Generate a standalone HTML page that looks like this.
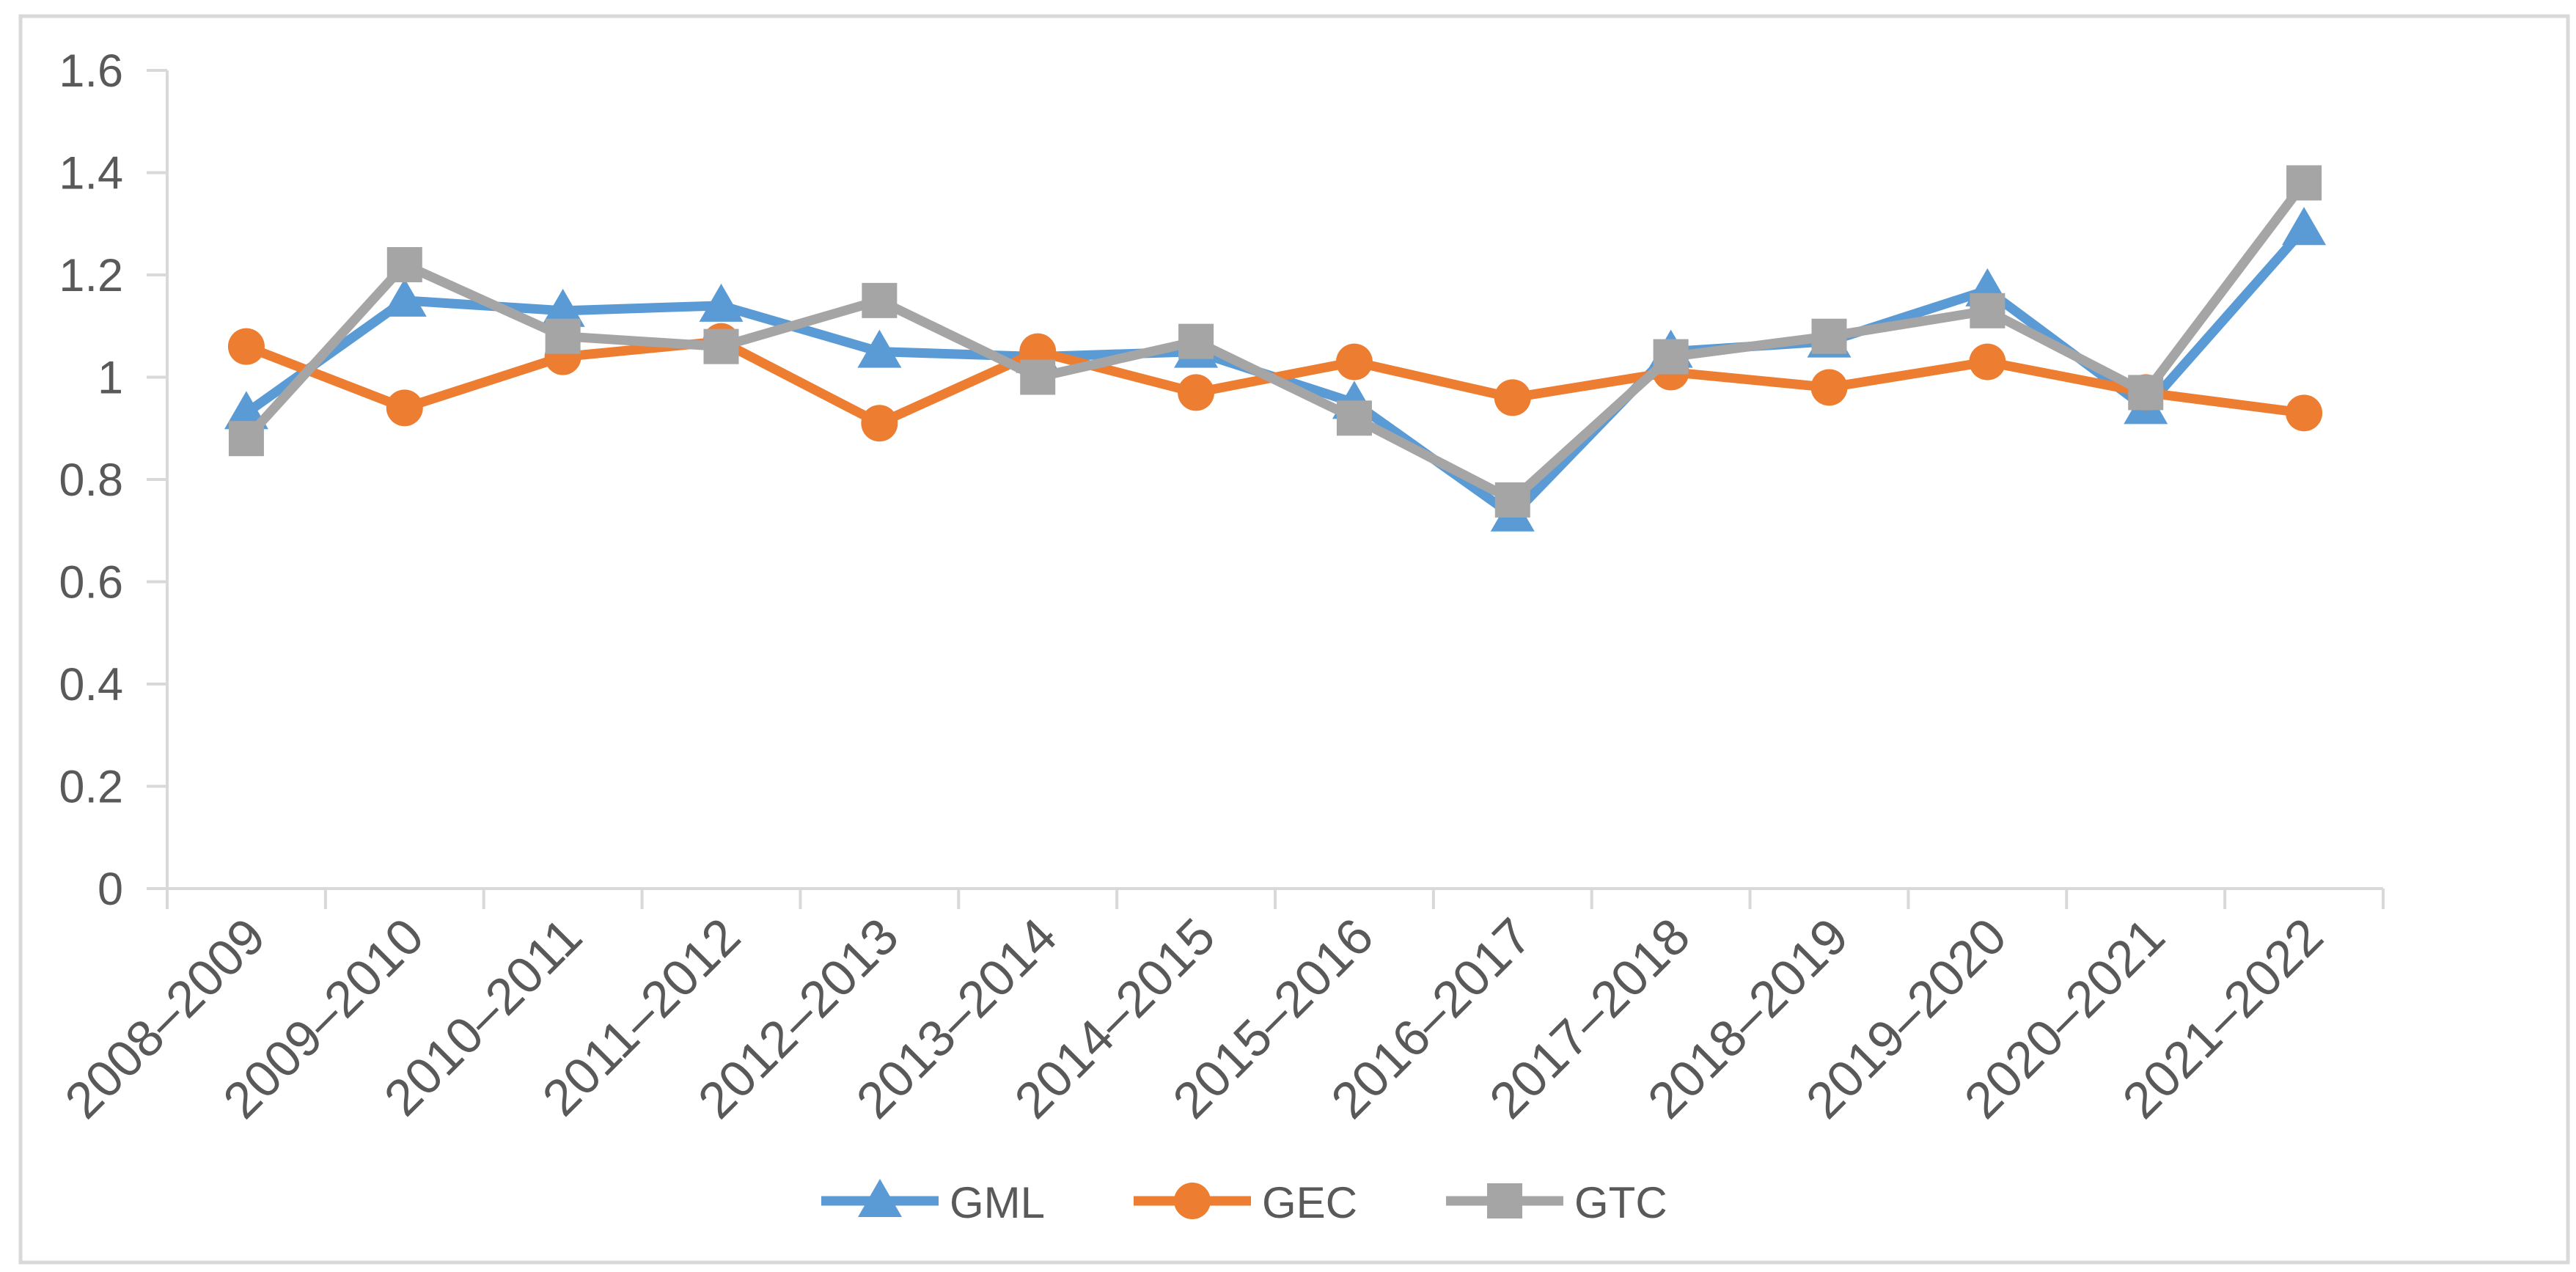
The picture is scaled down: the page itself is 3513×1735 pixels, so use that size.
<!DOCTYPE html>
<html><head><meta charset="utf-8"><style>
html,body{margin:0;padding:0;background:#fff;}
svg{display:block;font-family:"Liberation Sans","Noto Sans CJK SC",sans-serif;}
</style></head><body>
<svg id="chart" width="3513" height="1735" viewBox="0 0 3513 1735" xmlns="http://www.w3.org/2000/svg">
<rect x="28" y="22" width="3474" height="1700" fill="#fff" stroke="#d9d9d9" stroke-width="5"/>
<g id="axes"></g><g id="series"></g><g id="legend"></g>
</svg>
<script>
const categories=["2008-2009","2009-2010","2010-2011","2011-2012","2012-2013","2013-2014","2014-2015","2015-2016","2016-2017","2017-2018","2018-2019","2019-2020","2020-2021","2021-2022"];
const gmlValues=[0.93,1.15,1.13,1.14,1.05,1.04,1.05,0.95,0.73,1.05,1.07,1.17,0.94,1.29];
const gecValues=[1.06,0.94,1.04,1.07,0.91,1.05,0.97,1.03,0.96,1.01,0.98,1.03,0.97,0.93];
const gtcValues=[0.88,1.22,1.08,1.06,1.15,1.00,1.07,0.92,0.76,1.04,1.08,1.13,0.97,1.38];
const yTicks=[0,0.2,0.4,0.6,0.8,1,1.2,1.4,1.6];
const yTickLabels=["0","0.2","0.4","0.6","0.8","1","1.2","1.4","1.6"];

const NS="http://www.w3.org/2000/svg";
const X0=228,X1=3250,Y0=1212,Y1=96,YMAX=1.6;
const cw=(X1-X0)/categories.length;
function xs(i){return X0+cw*(i+0.5);}
function ys(v){return Y0-(v/YMAX)*(Y0-Y1);}
function mk(tag,attrs,parent){const e=document.createElementNS(NS,tag);for(const k in attrs)e.setAttribute(k,attrs[k]);parent.appendChild(e);return e;}
const axes=document.getElementById('axes'),series=document.getElementById('series'),legend=document.getElementById('legend');
const grey="#595959",axisC="#d9d9d9";

let l=mk('line',{x1:X0,y1:Y1,x2:X0,y2:Y0,stroke:axisC,'stroke-width':4},axes);

l=mk('line',{x1:X0,y1:Y0,x2:X1,y2:Y0,stroke:axisC,'stroke-width':4},axes);

yTicks.forEach((v,i)=>{
  const t=mk('line',{x1:X0-28,y1:ys(v),x2:X0,y2:ys(v),stroke:axisC,'stroke-width':4},axes);
  
  const tx=mk('text',{x:X0-60,y:ys(v)+22,'text-anchor':'end','font-size':63,fill:grey},axes);
  
  tx.textContent=yTickLabels[i];
});
for(let i=0;i<=categories.length;i++){
  const x=X0+cw*i;
  const t=mk('line',{x1:x,y1:Y0,x2:x,y2:Y0+28,stroke:axisC,'stroke-width':4},axes);
  
}
categories.forEach((c,i)=>{
  const x=xs(i)+30,y=Y0+70;
  const tx=mk('text',{x:x,y:y,'text-anchor':'end','font-size':70,fill:grey,transform:`rotate(-45 ${x} ${y})`},axes);
  
  tx.textContent=c.replace('-','–');
});

function marker(type,x,y,color,g){
  let m;
  if(type==='tri') m=mk('polygon',{points:`${x},${y-30} ${x-30},${y+22} ${x+30},${y+22}`,fill:color},g);
  else if(type==='circle') m=mk('circle',{cx:x,cy:y,r:25,fill:color},g);
  else m=mk('rect',{x:x-24,y:y-24,width:48,height:48,fill:color},g);
  
}
const defs=[["gml",gmlValues,"#5b9bd5","tri","GML"],["gec",gecValues,"#ed7d31","circle","GEC"],["gtc",gtcValues,"#a5a5a5","square","GTC"]];
defs.forEach(([id,vals,color,type])=>{
  const g=mk('g',{},series);
  
  const p=mk('polyline',{points:vals.map((v,i)=>xs(i)+','+ys(v)).join(' '),fill:'none',stroke:color,'stroke-width':13,'stroke-linejoin':'round'},g);
  
  vals.forEach((v,i)=>marker(type,xs(i),ys(v),color,g));
});
const legX=[1120,1546,1972];
defs.forEach(([id,vals,color,type,label],k)=>{
  const g=mk('g',{},legend);
  
  const x=legX[k],y=1638;
  mk('line',{x1:x,y1:y,x2:x+160,y2:y,stroke:color,'stroke-width':13},g);
  marker(type,x+80,y,color,g);
  const t=mk('text',{x:x+175,y:y+23,'font-size':60,fill:grey},g);
  
  t.textContent=label;
});
</script>
</body></html>
